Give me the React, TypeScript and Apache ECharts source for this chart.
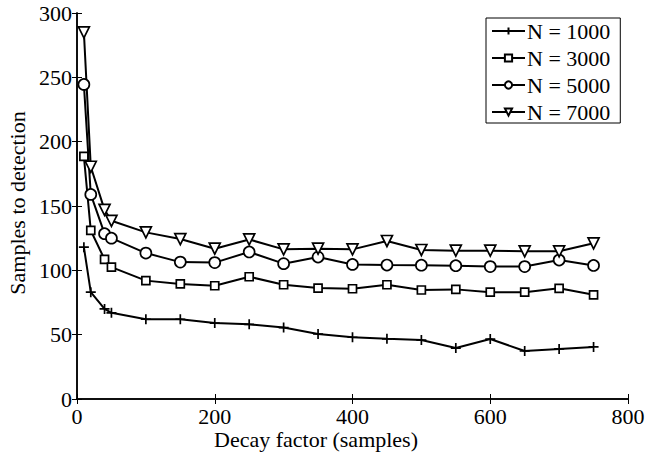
import React, { useEffect, useRef } from "react";
import * as echarts from "echarts";

const decay = [10, 20, 40, 50, 100, 150, 200, 250, 300, 350, 400, 450, 500, 550, 600, 650, 700, 750];
const n1000 = [118, 83, 70, 67, 62, 62, 59, 58, 55.5, 50.5, 48, 46.8, 45.8, 39.6, 46.6, 37.3, 38.9, 40.5];
const n3000 = [188.5, 131, 108.5, 102.5, 92, 89.4, 88, 95, 88.8, 86.2, 85.7, 88.8, 84.7, 85.2, 83, 83, 86, 81];
const n5000 = [244.5, 159, 128.5, 125, 113.4, 106.4, 106, 114.3, 105.2, 110.3, 104.6, 104.1, 104, 103.6, 102.9, 102.9, 108, 103.8];
const n7000 = [285, 180.5, 147, 138.5, 129.5, 124.3, 116.8, 124, 116.3, 116.8, 116.3, 122.8, 115.8, 115.3, 115.3, 114.8, 114.8, 121];
const seriesNames = ["N = 1000", "N = 3000", "N = 5000", "N = 7000"];
const yTicks = [0, 50, 100, 150, 200, 250, 300];
const xTicks = [0, 200, 400, 600, 800];

const FONT = "Liberation Serif";

export default function App() {
  const ref = useRef<HTMLDivElement>(null);
  useEffect(() => {
    const chart = echarts.init(ref.current!, null, { renderer: "svg" });
    const symbols = [
      "path://M5,0 L5,10 M0,5 L10,5",
      "rect",
      "circle",
      "path://M0,0 L10,0 L5,10 Z",
    ];
    const sizes = [10, 8, 11, 11];
    const allData = [n1000, n3000, n5000, n7000];
    const series = allData.map((vals, i) => ({
      name: seriesNames[i],
      type: "line",
      data: decay.map((x, j) => [x, vals[j]]),
      symbol: symbols[i],
      symbolSize: sizes[i],
      showAllSymbol: true,
      lineStyle: { color: "#000", width: 2 },
      itemStyle: { color: "#fff", borderColor: "#000", borderWidth: 1.7 },
      emphasis: { disabled: true },
      xAxisIndex: 0,
      yAxisIndex: 0,
    }));
    const axisLine = { show: true, lineStyle: { color: "#000", width: 1.5 } };
    const axisTick = { show: true, inside: true, length: 5, lineStyle: { color: "#000", width: 1 } };
    chart.setOption({
      animation: false,
      backgroundColor: "#fff",
      grid: { left: 77, right: 34, top: 13, bottom: 53, containLabel: false },
      xAxis: [
        {
          type: "value",
          min: xTicks[0],
          max: xTicks[xTicks.length - 1],
          interval: 200,
          position: "bottom",
          axisLine,
          axisTick,
          splitLine: { show: false },
          axisLabel: { fontFamily: FONT, fontSize: 22, color: "#000", margin: 6 },
        },
        {
          type: "value",
          min: xTicks[0],
          max: xTicks[xTicks.length - 1],
          interval: 200,
          position: "top",
          axisLine,
          axisTick,
          splitLine: { show: false },
          axisLabel: { show: false },
        },
      ],
      yAxis: [
        {
          type: "value",
          min: yTicks[0],
          max: yTicks[yTicks.length - 1],
          interval: 50,
          position: "left",
          axisLine,
          axisTick,
          splitLine: { show: false },
          axisLabel: { fontFamily: FONT, fontSize: 22, color: "#000", margin: 5 },
        },
        {
          type: "value",
          min: yTicks[0],
          max: yTicks[yTicks.length - 1],
          interval: 50,
          position: "right",
          axisLine,
          axisTick,
          splitLine: { show: false },
          axisLabel: { show: false },
        },
      ],
      legend: {
        data: seriesNames,
        orient: "vertical",
        left: 486,
        top: 18,
        padding: [2, 10, 0, 5],
        itemGap: 5,
        itemWidth: 33,
        itemHeight: 9,
        borderColor: "#000",
        borderWidth: 1,
        backgroundColor: "#fff",
        selectedMode: false,
        textStyle: { fontFamily: FONT, fontSize: 22, color: "#000", padding: [0, 0, 0, -3] },
      },
      graphic: [
        {
          type: "text",
          x: 316,
          y: 439,
          style: {
            text: "Decay factor (samples)",
            fontFamily: FONT,
            fontSize: 22,
            fill: "#000",
            align: "center",
            verticalAlign: "middle",
          },
        },
        {
          type: "text",
          x: 17,
          y: 203,
          rotation: Math.PI / 2,
          style: {
            text: "Samples to detection",
            fontFamily: FONT,
            fontSize: 22,
            fill: "#000",
            align: "center",
            verticalAlign: "middle",
          },
        },
      ],
      series,
    });
    return () => chart.dispose();
  }, []);
  return <div ref={ref} style={{ width: 662, height: 452, position: "absolute", left: 0, top: 0 }} />;
}
